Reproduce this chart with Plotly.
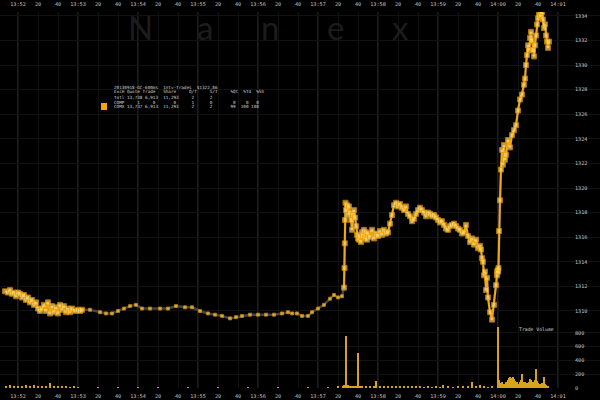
import plotly.graph_objects as go

# ---------------- data ----------------
# seconds relative to 13:52:00, trade price (USD)
trade_sec = [-13, -10, -8, -6, -4, -2, 0, 2, 4, 6, 8, 10, 12, 14, 16, 18, 20, 22, 24, 26, 28, 30,
             32, 34, 36, 38, 40, 42, 44, 46, 48, 50, 52, 54, 57, 60, 62,
             64, 72, 82, 88, 94, 100, 106, 112, 118, 124, 132, 142, 150, 158, 167, 174, 182, 190,
             197, 204, 212, 218, 224, 232, 240, 248, 256, 264, 270, 274, 279, 284, 290, 294, 300,
             306, 312, 316, 320, 324, 326,
             326.5, 326.8, 327, 327.5, 328, 329, 330, 331, 332, 333, 334, 335, 336, 337, 338, 339,
             340, 341, 342, 343, 344, 345, 346, 347, 348, 349, 350, 352, 354, 356, 358, 360, 362,
             364, 366, 368, 370, 372, 374, 376, 378, 380, 382, 384, 386, 388, 390, 392, 394, 396,
             398, 400, 402, 404, 406, 408, 410, 412, 414, 416, 418, 420, 422, 424, 426, 428, 430,
             432, 434, 436, 438, 440, 442, 444, 446, 448, 450, 452, 454, 456, 458, 460, 462, 463,
             464, 465, 466, 467, 468, 469, 470, 472, 474, 476, 478,
             479, 479.3, 479.6, 480, 480.5, 481, 482, 483, 484, 485, 486, 487, 488, 490, 492, 494,
             496, 498, 500, 502, 504, 506, 507, 508, 509, 510, 511, 512, 513, 514, 515, 516, 517,
             518, 519, 520, 521, 522, 523, 524, 525, 526, 527, 528, 529, 530, 531]
trade_px = [1311.6, 1311.5, 1311.7, 1311.4, 1311.5, 1311.2, 1311.5, 1311.4, 1311.1, 1311.3, 1310.9,
            1311.1, 1310.7, 1310.9, 1310.5, 1310.7, 1310.2, 1310.0, 1310.2, 1310.5, 1310.0, 1310.7,
            1309.8, 1310.4, 1309.9, 1310.3, 1309.8, 1310.5, 1310.1, 1310.4, 1309.9, 1310.2, 1309.9,
            1310.2, 1310.0, 1310.1, 1310.0,
            1310.1, 1310.1, 1309.9, 1309.8, 1309.8, 1310.0, 1310.2, 1310.4, 1310.5, 1310.2, 1310.2,
            1310.2, 1310.2, 1310.4, 1310.3, 1310.3, 1310.0, 1309.8, 1309.7, 1309.6, 1309.4, 1309.5,
            1309.6, 1309.7, 1309.7, 1309.7, 1309.7, 1309.8, 1309.9, 1309.8, 1309.8, 1309.6, 1309.6,
            1309.9, 1310.2, 1310.5, 1311.0, 1311.3, 1311.1, 1311.2, 1311.9,
            1313.5, 1315.5, 1317.4, 1318.8, 1318.2, 1318.6, 1317.8, 1318.5, 1318.0, 1317.4, 1316.6,
            1317.8, 1318.2, 1317.6, 1316.9, 1316.2, 1315.9, 1315.8, 1316.1, 1315.6, 1316.4, 1316.1,
            1316.6, 1315.9, 1316.4, 1315.8, 1316.3, 1316.0, 1316.6, 1315.9, 1316.3, 1316.1, 1316.5,
            1316.2, 1316.6, 1316.3, 1316.4, 1317.1, 1317.8, 1318.6, 1318.8, 1318.5, 1318.7, 1318.4,
            1318.2, 1318.5, 1317.9, 1317.7, 1317.3, 1317.5, 1317.9, 1318.2, 1318.4, 1318.2, 1318.0,
            1317.7, 1318.0, 1317.9, 1317.7, 1317.8, 1317.6, 1317.4, 1317.2, 1317.3, 1317.0, 1316.7,
            1316.6, 1316.9, 1317.0, 1317.1, 1316.9, 1316.7, 1316.6, 1316.3, 1316.4, 1317.0, 1316.1,
            1315.6, 1315.9, 1315.4, 1315.8, 1315.1, 1315.3, 1315.0, 1314.3, 1314.0, 1312.9,
            1313.2, 1311.7, 1312.7, 1311.1, 1309.9, 1309.3, 1310.5, 1312.1, 1312.9, 1313.2, 1313.3,
            1313.2, 1313.5, 1316.5, 1319.0, 1321.5, 1323.1, 1321.9, 1323.5, 1322.3, 1322.7, 1323.9,
            1323.3, 1324.3, 1324.7, 1325.1, 1326.3, 1327.2, 1327.6, 1328.4, 1328.9, 1330.0, 1330.8,
            1331.6, 1331.2, 1332.2, 1332.7, 1332.0, 1331.2, 1330.7, 1331.6, 1332.4, 1333.3, 1333.8,
            1334.1, 1334.5, 1334.0, 1334.3, 1333.7, 1333.0, 1333.3, 1332.4, 1331.9, 1331.4, 1331.9,
            1330.8, 1330.4, 1331.1]

vol_sec = [-12, -8, -4, 0, 4, 8, 12, 16, 20, 24, 28, 32, 36, 40, 44, 48, 52, 56, 60, 80, 100,
           120, 140, 170, 200, 230, 260, 290, 310, 320, 325, 326, 328, 330, 332, 334, 336, 338,
           340, 342, 344, 348, 352, 356, 358, 362, 366, 370, 374, 378, 382, 386, 390, 394, 398,
           402, 406, 410, 414, 418, 422, 425, 430, 435, 440, 445, 450, 454, 458, 462, 466, 470,
           474, 480, 481, 482, 483, 484, 485, 486, 487, 488, 489, 490, 491, 492, 493, 494, 495,
           496, 497, 498, 499, 500, 501, 502, 503, 504, 505, 506, 507, 508, 509, 510, 511, 512,
           513, 514, 515, 516, 517, 518, 519, 520, 521, 522, 523, 524, 525, 526, 527, 528, 529, 530]
vol = [25, 40, 20, 30, 15, 45, 30, 50, 25, 35, 20, 70, 30, 25, 15, 20, 10, 15, 8, 5, 5, 8, 5, 6,
       5, 8, 6, 5, 10, 15, 20, 40, 760, 50, 30, 20, 25, 15, 510, 30, 20, 25, 20, 15, 100, 20, 15,
       30, 20, 25, 30, 15, 20, 25, 15, 20, 10, 15, 10, 15, 10, 40, 15, 10, 20, 15, 25, 80, 30, 40,
       20, 10, 15, 880, 120, 70, 50, 90, 40, 60, 30, 80, 50, 110, 140, 160, 120, 150, 165, 130,
       100, 70, 90, 60, 50, 80, 110, 200, 90, 60, 80, 40, 70, 60, 90, 130, 110, 60, 90, 50, 120,
       280, 100, 70, 50, 60, 40, 70, 30, 160, 60, 40, 30, 20]

minute_labels = ["13:52", "13:53", "13:54", "13:55", "13:56", "13:57", "13:58", "13:59", "14:00", "14:01"]
price_ticks = [1310, 1312, 1314, 1316, 1318, 1320, 1322, 1324, 1326, 1328, 1330, 1332, 1334]
vol_ticks = [0, 200, 400, 600, 800]

info_lines = [
    "20130918-GC-600ms  Intv-Trades  $1322.86",
    "ExcH Quote Trade   Share     Q/T     S/T     %Qt  %Td  %Sh",
    "Totl 13,738 6,913  11,293     2      2",
    "COMP     1     0       0      1      0        0    0   0",
    "COMX 13,737 6,913  11,293     2      2       99  100 100",
]
watermark = ["N", "a", "n", "e", "x"]

# ---------------- layout helpers ----------------
W, H = 600, 400
MT, MB = 12, 12
PH = H - MT - MB


def py(ypx):
    return 1 - (ypx - MT) / PH


tick_vals, tick_text = [], []
for i, m in enumerate(minute_labels):
    tick_vals.append(i * 60)
    tick_text.append(m)
    if i < len(minute_labels) - 1:
        tick_vals += [i * 60 + 20, i * 60 + 40]
        tick_text += ["20", "40"]

quiet_lo, quiet_hi = 64, 326
is_busy = [(s <= quiet_lo or s >= quiet_hi) for s in trade_sec]
busy_px = [p if b else None for p, b in zip(trade_px, is_busy)]
msize = [5 if b else 3 for b in is_busy]

fig = go.Figure()
fig.add_trace(go.Bar(x=vol_sec, y=vol, width=0.9, marker=dict(color="#d9a21c", line=dict(width=0)),
                     xaxis="x2", yaxis="y2", showlegend=False))
fig.add_trace(go.Scatter(x=trade_sec, y=trade_px, mode="lines", line=dict(color="#444444", width=2.5),
                         xaxis="x", yaxis="y", showlegend=False))
fig.add_trace(go.Scatter(x=trade_sec, y=busy_px, mode="lines", connectgaps=False,
                         line=dict(color="#f0a818", width=2), xaxis="x", yaxis="y", showlegend=False))
fig.add_trace(go.Scatter(x=trade_sec, y=trade_px, mode="markers",
                         marker=dict(symbol="square", size=msize, color="#ffd870",
                                     line=dict(color="#f2a000", width=1)),
                         xaxis="x", yaxis="y", showlegend=False))

tickfont = dict(family="DejaVu Sans Mono", size=5.2, color="#c4c4c4")
xcommon = dict(range=[-18, 582], tickvals=tick_vals, ticktext=tick_text, ticks="outside",
               ticklen=3, tickcolor="rgba(0,0,0,0)",
               showgrid=True, gridcolor="#111111", zeroline=False, showline=False,
               tickfont=tickfont, domain=[0, 1], automargin=False)
vol_top = 388 - 62
price_dom = [py(vol_top), 1]
vol_dom = [0, py(vol_top)]

shapes = []
for i in range(len(minute_labels)):
    shapes.append(dict(type="line", xref="x", yref="paper", x0=i * 60, x1=i * 60, y0=0, y1=1,
                       line=dict(color="#3a3a3a", width=1), layer="below"))
shapes.append(dict(type="rect", xref="paper", yref="paper", x0=101 / W, x1=107 / W,
                   y0=py(110), y1=py(103), fillcolor="#f5a400", line=dict(width=0)))

annotations = []
for i, ch in enumerate(watermark):
    annotations.append(dict(text=ch, xref="paper", yref="paper", x=(140 + 65 * i) / W, y=py(27),
                            showarrow=False, font=dict(family="Lato", size=33, color="#1c1c1c"),
                            xanchor="center", yanchor="middle"))
for i, line in enumerate(info_lines):
    annotations.append(dict(text=line.replace(" ", "\u00a0"), xref="paper", yref="paper",
                            x=112 / W, y=py(87 + 5 * i), showarrow=False, xanchor="left",
                            yanchor="middle",
                            font=dict(family="DejaVu Sans Mono", size=4.3, color="#d0d0d0")))
annotations.append(dict(text="Trade\u00a0Volume", xref="paper", yref="paper", x=517 / W, y=py(329),
                        showarrow=False, xanchor="left", yanchor="middle",
                        font=dict(family="DejaVu Sans Mono", size=4.8, color="#d0d0d0")))

fig.update_layout(
    width=W, height=H, margin=dict(l=0, r=0, t=MT, b=MB, autoexpand=False),
    paper_bgcolor="#000000", plot_bgcolor="#000000", showlegend=False, bargap=0,
    xaxis=dict(**xcommon, anchor="y", side="top"),
    xaxis2=dict(**xcommon, anchor="y2", side="bottom", matches="x"),
    yaxis=dict(domain=price_dom, range=[1308.78, 1334.31], side="right", anchor="free",
               position=574 / W, tickvals=price_ticks, ticks="", showgrid=True,
               gridcolor="#121212", zeroline=False, tickfont=tickfont, automargin=False),
    yaxis2=dict(domain=vol_dom, range=[0, 900], side="right", anchor="free", position=574 / W,
                tickvals=vol_ticks, ticks="", showgrid=True, gridcolor="#121212",
                zeroline=False, tickfont=tickfont, automargin=False),
    shapes=shapes, annotations=annotations,
)

fig.write_html("out.html", config={"displayModeBar": False},
               post_script="document.body.style.margin='0';document.body.style.overflow='hidden';")
